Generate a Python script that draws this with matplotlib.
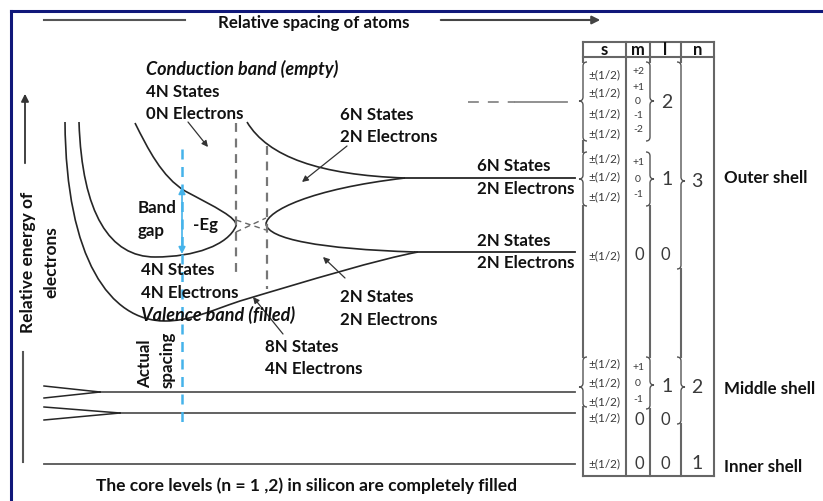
# encoding: utf-8
import numpy as np
import matplotlib
matplotlib.use("Agg")
import matplotlib.pyplot as plt
from matplotlib.path import Path
from matplotlib.patches import PathPatch

plt.rcParams["font.family"] = ["Lato", "DejaVu Sans"]

# picture is laid out in pixel units (x right, y down)
W, H = 823, 502

# energy levels: y of the level line and where it starts on the left
level_names = ["3d", "3p", "3s", "2p", "2s", "1s"]
level_y = [103, 179, 253, 393, 414, 465]
level_x0 = [468, 405, 415, 100, 120, 44]
level_x1 = 575

# band edges, cubic bezier control points (start, c1, c2, end, c1, c2, end ...)
valence_low = [(65, 123), (66, 260), (110, 322), (165, 322),
               (190, 322), (210, 312), (240, 302),
               (310, 281), (380, 260), (418, 253)]
valence_top = [(79, 123), (82, 215), (110, 258), (155, 258),
               (195, 258), (228, 246), (236, 227),
               (238, 219), (215, 208), (185, 192),
               (162, 178), (148, 150), (135, 124)]
upper_3p = [(247, 123), (268, 158), (320, 176), (405, 179)]
lower_3p = [(266, 225), (267, 212), (310, 190), (405, 179)]
upper_3s = [(266, 225), (268, 240), (320, 250), (415, 253)]

# core level splitting (left ends fan into the level)
core_split = [[(44, 387), (100, 393)], [(44, 399), (100, 393)],
              [(44, 408), (120, 414)], [(44, 421), (120, 414)]]
crossing = [[(236, 221), (266, 231)], [(236, 233), (266, 219)]]
atom_spacing = [(236, 124, 277), (267, 147, 290)]

# pointer arrows (tail, head)
pointers = [((188, 123), (208, 148)), ((347, 147), (302, 183)),
            ((345, 279), (323, 258)), ((283, 335), (253, 298))]

labels = [
    (146, 69, "Conduction band (empty)", "italic"),
    (146, 92, "4N States", "normal"),
    (146, 114, "0N Electrons", "normal"),
    (340, 115, "6N States", "normal"),
    (340, 137, "2N Electrons", "normal"),
    (477, 166, "6N States", "normal"),
    (477, 189, "2N Electrons", "normal"),
    (477, 241, "2N States", "normal"),
    (477, 263, "2N Electrons", "normal"),
    (340, 297, "2N States", "normal"),
    (340, 320, "2N Electrons", "normal"),
    (138, 208, "Band", "normal"),
    (138, 231, "gap", "normal"),
    (193, 225, "-Eg", "normal"),
    (141, 270, "4N States", "normal"),
    (141, 293, "4N Electrons", "normal"),
    (141, 315, "Valence band (filled)", "italic"),
    (265, 347, "8N States", "normal"),
    (265, 369, "4N Electrons", "normal"),
    (218, 23, "Relative spacing of atoms", "normal"),
]
footnote = "The core levels (n = 1 ,2) in silicon are completely filled"

# quantum number table
col_edges = [583, 626, 650, 681, 714]
col_heads = ["s", "m", "l", "n"]
spin_rows = [75, 93, 114, 134, 159, 177, 197, 256, 364, 383, 402, 418, 464]
m_vals = ["+2", "+1", "0", "-1", "-2", "+1", "0", "-1", "+1", "0", "-1"]
m_rows = [72, 87, 102, 116, 130, 163, 180, 195, 368, 384, 400]
m_zero_rows = [255, 420, 464]
l_vals = ["2", "1", "1"]
l_rows = [103, 180, 387]
l_zero_rows = [255, 420, 464]
n_vals = ["3", "2", "1"]
n_rows = [182, 388, 464]
shells = ["Outer shell", "Middle shell", "Inner shell"]
shell_rows = [178, 389, 467]
# braces: (x, top, bottom, tip, direction)
braces = [(583, 63, 142, 102, -1), (583, 153, 207, 180, -1), (583, 358, 408, 388, -1),
          (650, 63, 142, 102, 1), (650, 153, 207, 180, 1), (650, 358, 410, 386, 1),
          (681, 63, 270, 182, 1), (681, 358, 425, 388, 1)]
col_segments = {583: [(43, 63), (142, 153), (207, 358), (408, 477)],
                626: [(43, 477)],
                650: [(43, 63), (207, 358), (410, 477)],
                681: [(43, 63), (270, 358), (425, 477)],
                714: [(43, 477)]}


def bezier(ax, pts, **kw):
    codes = [Path.MOVETO] + [Path.CURVE4] * (len(pts) - 1)
    ax.add_patch(PathPatch(Path(pts, codes), fill=False, **kw))


def brace(ax, x, y0, y1, ym, d, h=4, r=4, **kw):
    e, t = x - d * h, x + d * h
    pts = [(e, y0), (x, y0), (x, y0 + r), (x, ym - r), (x, ym), (t, ym),
           (x, ym), (x, ym + r), (x, y1 - r), (x, y1), (e, y1)]
    codes = [Path.MOVETO, Path.CURVE3, Path.CURVE3, Path.LINETO, Path.CURVE3, Path.CURVE3,
             Path.CURVE3, Path.CURVE3, Path.LINETO, Path.CURVE3, Path.CURVE3]
    ax.add_patch(PathPatch(Path(pts, codes), fill=False, **kw))


def main():
    fig = plt.figure(figsize=(W / 100, H / 100), dpi=100)
    ax = fig.add_axes([0, 0, 1, 1])
    ax.set_xlim(0, W)
    ax.set_ylim(H, 0)
    ax.axis("off")

    ink = "#262626"
    # frame
    ax.plot([11, W], [12, 12], color="#10187a", lw=2.2)
    ax.plot([11, 11], [12, H], color="#10187a", lw=2.2)

    # axis arrows
    ax.plot([44, 185], [21, 21], color="#555555", lw=1.5)
    ax.annotate("", xy=(603, 21), xytext=(438, 21),
                arrowprops=dict(arrowstyle="-|>", color="#444444", lw=1.5, mutation_scale=12))
    ax.annotate("", xy=(25, 92), xytext=(25, 167),
                arrowprops=dict(arrowstyle="-|>", color="#333333", lw=1.3, mutation_scale=11))
    ax.plot([23, 23], [353, 463], color="#555555", lw=1.5)

    # levels
    for name, y, x0 in zip(level_names, level_y, level_x0):
        if name == "3d":
            ax.plot([x0, 515], [y, y], color="#888888", lw=1.3, dashes=(6, 5))
            ax.plot([515, 567], [y, y], color="#888888", lw=1.3)
        else:
            ax.plot([x0, level_x1], [y, y], color="#555555" if y > 300 else ink, lw=1.3)

    for pts in [valence_low, valence_top, upper_3p, lower_3p, upper_3s]:
        bezier(ax, pts, color=ink, lw=1.2)
    for seg in core_split:
        ax.plot(*zip(*seg), color=ink, lw=1.1)
    for seg in crossing:
        ax.plot(*zip(*seg), color="#666666", lw=1.0, dashes=(4, 3))
    for x, y0, y1 in atom_spacing:
        ax.plot([x, x], [y0, y1], color="#777777", lw=1.6, dashes=(4, 3))

    # band gap marker
    blue = "#45b3ea"
    ax.plot([182, 182], [150, 427], color=blue, lw=1.8, dashes=(4, 3))
    ax.annotate("", xy=(182, 188), xytext=(182, 255),
                arrowprops=dict(arrowstyle="<|-|>", color=blue, lw=1.2, mutation_scale=10,
                                shrinkA=0, shrinkB=0))

    for tail, head in pointers:
        ax.annotate("", xy=head, xytext=tail,
                    arrowprops=dict(arrowstyle="-|>", color="#333333", lw=0.9,
                                    mutation_scale=9, shrinkA=0, shrinkB=0))

    for x, y, s, style in labels:
        ax.text(x, y, s, fontsize=13 if style == "italic" else 12.2, fontweight="bold",
                fontstyle=style, ha="left", va="center", color="#111111")
    ax.text(96, 486, footnote, fontsize=12.5, fontweight="bold", ha="left", va="center",
            color="#111111")

    ax.text(28, 262, "Relative energy of", rotation=90, fontsize=12.5, fontweight="bold",
            ha="center", va="center", color="#111111")
    ax.text(51, 262, "electrons", rotation=90, fontsize=12.5, fontweight="bold",
            ha="center", va="center", color="#111111")
    ax.text(145, 388, "Actual", rotation=90, fontsize=12.2, fontweight="bold",
            ha="center", va="bottom", color="#111111")
    ax.text(168, 388, "spacing", rotation=90, fontsize=12.2, fontweight="bold",
            ha="center", va="bottom", color="#111111")

    # table
    tc = "#666666"
    ax.plot([583, 714], [43, 43], color=tc, lw=1.5)
    ax.plot([583, 714], [58, 58], color=tc, lw=1.5)
    ax.plot([583, 714], [477, 477], color=tc, lw=1.5)
    for x, segs in col_segments.items():
        for y0, y1 in segs:
            ax.plot([x, x], [y0, y1], color=tc, lw=1.5)
    for x, y0, y1, ym, d in braces:
        brace(ax, x, y0, y1, ym, d, color="#555555", lw=1.0)
    for i, head in enumerate(col_heads):
        ax.text((col_edges[i] + col_edges[i + 1]) / 2, 50, head, fontsize=12,
                fontweight="bold", ha="center", va="center", color="#111111")

    tx = "#3a3a3a"
    for y in spin_rows:
        ax.text(604, y, "±(1/2)", fontsize=8.5, ha="center", va="center", color=tx)
    for s, y in zip(m_vals, m_rows):
        ax.text(638, y, s, fontsize=7.5, ha="center", va="center", color=tx)
    for y in m_zero_rows:
        ax.text(639, y, "0", fontsize=12, ha="center", va="center", color=tx)
    for s, y in zip(l_vals, l_rows):
        ax.text(667, y, s, fontsize=14, ha="center", va="center", color=tx)
    for y in l_zero_rows:
        ax.text(665, y, "0", fontsize=12, ha="center", va="center", color=tx)
    for s, y in zip(n_vals, n_rows):
        ax.text(697, y, s, fontsize=14, ha="center", va="center", color=tx)
    for s, y in zip(shells, shell_rows):
        ax.text(724, y, s, fontsize=12.2, fontweight="bold", ha="left", va="center",
                color="#111111")

    fig.savefig("out.png", dpi=100)


if __name__ == '__main__':
    main()
